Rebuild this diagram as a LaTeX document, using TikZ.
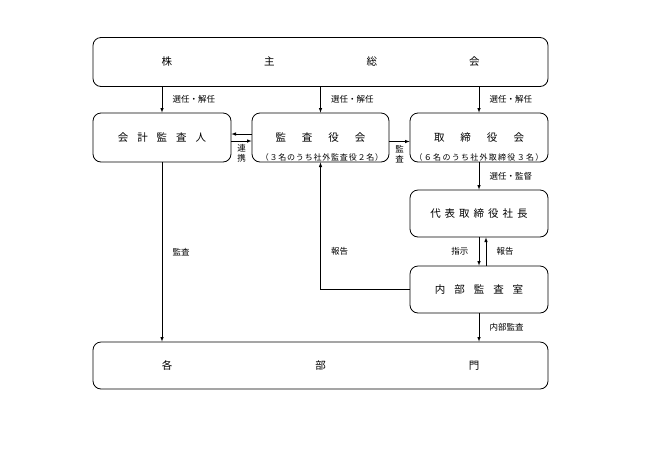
\documentclass[tikz,border=0pt]{standalone}
\usepackage{fontspec}
\setmainfont{Noto Sans CJK JP}

\begin{document}
\begin{tikzpicture}[x=1pt,y=-1pt,>=latex,line width=0.6pt,
    box/.style={draw,rounded corners=8pt,line width=0.8pt,
      font=\fontsize{10.5}{12}\selectfont},
    lbl/.style={font=\fontsize{8.5}{10}\selectfont},
    sub/.style={font=\fontsize{8}{10}\selectfont\addfontfeatures{LetterSpace=10}}]
    \useasboundingbox (0,0) rectangle (645,456);
    % boxes
    \node[box,minimum width=455pt,minimum height=49pt] (kabunushi) at (320.5,62)
        {株\hspace{92pt}主\hspace{92pt}総\hspace{92pt}会};
    \node[box,minimum width=138pt,minimum height=49pt] (kaikei) at (162,137.5)
        {会\hspace{9pt}計\hspace{9pt}監\hspace{9pt}査\hspace{9pt}人};
    \node[box,minimum width=137pt,minimum height=49pt] (kansa) at (320.5,137.5)
        {監\hspace{16pt}査\hspace{16pt}役\hspace{16pt}会};
    \node[box,minimum width=138pt,minimum height=49pt] (torishimari) at (479,137.5)
        {取\hspace{16pt}締\hspace{16pt}役\hspace{16pt}会};
    \node[box,minimum width=138pt,minimum height=47pt] (daihyo) at (479,213.5)
        {代\hspace{4pt}表\hspace{4pt}取\hspace{4pt}締\hspace{4pt}役\hspace{4pt}社\hspace{4pt}長};
    \node[box,minimum width=138pt,minimum height=47pt] (naibu) at (479,289.5)
        {内\hspace{9pt}部\hspace{9pt}監\hspace{9pt}査\hspace{9pt}室};
    \node[box,minimum width=455pt,minimum height=47pt] (bumon) at (320.5,365.5)
        {各\hspace{143pt}部\hspace{143pt}門};
    \node[sub] (kansasub) at (322,157) {（３名のうち社外監査役２名）};
    \node[sub,font=\fontsize{8}{10}\selectfont\addfontfeatures{LetterSpace=16}] (torisub) at (479,157)
        {（６名のうち社外取締役３名）};
    % arrows
    \draw[->] (kabunushi.south -| kaikei.north) -- node[lbl,right=7pt] {選任・解任} (kaikei.north);
    \draw[->] (kabunushi.south -| kansa.north) -- node[lbl,right=7pt] {選任・解任} (kansa.north);
    \draw[->] (kabunushi.south -| torishimari.north) -- node[lbl,right=7pt] {選任・解任} (torishimari.north);
    \draw[->] ([yshift=3.5pt]kansa.west) -- ([yshift=3.5pt]kaikei.east);
    \draw[->] ([yshift=-3.5pt]kaikei.east) -- node[lbl,below,align=center] {連\\携} ([yshift=-3.5pt]kansa.west);
    \draw[->] ([yshift=-4pt]kansa.east) -- node[lbl,below,align=center] {監\\査} ([yshift=-4pt]torishimari.west);
    \draw[->] (torishimari.south) -- node[lbl,right=7pt] {選任・監督} (daihyo.north);
    \draw[->] (daihyo.south) -- node[lbl,left=7pt] {指示} (naibu.north);
    \draw[->] ([xshift=7pt]naibu.north) -- node[lbl,right=7pt] {報告} ([xshift=7pt]daihyo.south);
    \draw[->] (naibu.west) -- (naibu.west -| kansa.south) -- node[lbl,pos=0.3,right=7pt] {報告} (kansa.south);
    \draw[->] (kaikei.south) -- node[lbl,right=7pt] {監査} (kaikei.south |- bumon.north);
    \draw[->] (naibu.south) -- node[lbl,right=7pt] {内部監査} (naibu.south |- bumon.north);
\end{tikzpicture}
\end{document}
